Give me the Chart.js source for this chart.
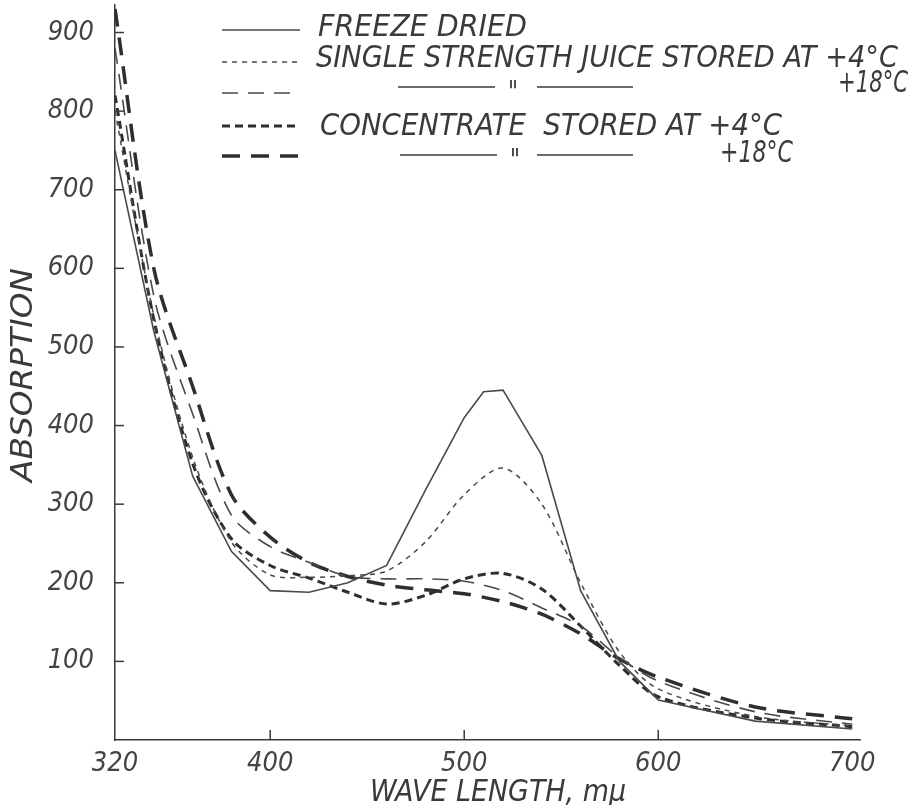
<!DOCTYPE html>
<html>
<head>
  <title>Absorption spectra</title>
  <script src="https://cdn.jsdelivr.net/npm/chart.js"></script>
  <style>
    body { margin: 0; background: #fff; }
  </style>
</head>
<body>
  <canvas id="spectrum" width="914" height="805"></canvas>

  <script>
    // wavelengths (m\u03bc) where the curves were read
    const wavelengths = [320, 340, 360, 380, 400, 420, 440, 460, 480, 500, 510, 520, 540, 560, 580, 600, 650, 700];

    // absorption values (null = no reading at that wavelength)
    const freezeDried      = [750, 520, 336, 240, 190, 188, 200, 222, 318, 410, 443, 445, 362, 190, 100, 51, 24, 14];
    const singleStrength4  = [800, 540, 360, 252, 210, 207, 209, 215, 252, 312, null, 346, 300, 200, 112, 65, 30, 18];
    const singleStrength18 = [880, 565, 415, 286, 246, 226, 208, 205, 205, 202, null, 190, 168, 145, 105, 75, 36, 20];
    const concentrate4     = [820, 535, 352, 256, 222, 206, 188, 173, 184, 205, null, 212, 192, 145, 95, 55, 28, 17];
    const concentrate18    = [930, 600, 450, 312, 258, 226, 208, 197, 191, 186, null, 176, 160, 135, 103, 80, 42, 27];

    // axis ticks
    const xTickLabels = [320, 400, 500, 600, 700];
    const xInnerTicks = [400, 500, 600];
    const yTickLabels = [100, 200, 300, 400, 500, 600, 700, 800, 900];

    const INK = '#3a3a3a';
    const FONT = '"DejaVu Sans Condensed", "DejaVu Sans", sans-serif';

    function points(values) {
      return wavelengths
        .map((w, i) => ({ x: w, y: values[i] }))
        .filter(p => p.y !== null);
    }

    // text squeezed/stretched to the width it has in the original lettering
    function fitText(ctx, str, x, y, width, size, angle) {
      ctx.save();
      ctx.font = 'italic ' + size + 'px ' + FONT;
      const w = ctx.measureText(str).width;
      ctx.translate(x, y);
      if (angle) ctx.rotate(angle);
      ctx.scale(width / w, 1);
      ctx.fillStyle = INK;
      ctx.textBaseline = 'alphabetic';
      ctx.textAlign = 'left';
      ctx.fillText(str, 0, 0);
      ctx.restore();
    }

    function seg(ctx, x1, y1, x2, y2) {
      ctx.beginPath();
      ctx.moveTo(x1, y1);
      ctx.lineTo(x2, y2);
      ctx.stroke();
    }

    const decorations = {
      id: 'decorations',
      afterDraw(chart) {
        const ctx = chart.ctx;
        const xs = chart.scales.x, ys = chart.scales.y;
        ctx.save();
        ctx.strokeStyle = INK;
        ctx.lineWidth = 1.5;

        // inward tick marks
        yTickLabels.forEach(v => {
          const py = ys.getPixelForValue(v);
          seg(ctx, xs.left, py, xs.left + 9, py);
        });
        xInnerTicks.forEach(v => {
          const px = xs.getPixelForValue(v);
          seg(ctx, px, ys.bottom, px, ys.bottom - 10);
        });

        // legend samples
        const rows = [30, 62, 93, 126, 156];
        chart.data.datasets.forEach((ds, i) => {
          ctx.save();
          ctx.strokeStyle = ds.borderColor;
          ctx.lineWidth = ds.borderWidth;
          ctx.setLineDash(ds.borderDash || []);
          seg(ctx, 222, rows[i], 300, rows[i]);
          ctx.restore();
        });

        // legend text
        fitText(ctx, 'FREEZE DRIED', 318, 36, 209, 31);
        fitText(ctx, 'SINGLE STRENGTH JUICE STORED AT +4°C', 316, 67, 582, 31);
        fitText(ctx, '+18°C', 838, 92, 70, 31);
        fitText(ctx, 'CONCENTRATE  STORED AT +4°C', 320, 135, 462, 31);
        fitText(ctx, '+18°C', 720, 162, 73, 31);

        // ditto lines
        ctx.lineWidth = 1.5;
        seg(ctx, 398, 87, 495, 87);
        seg(ctx, 537, 87, 633, 87);
        seg(ctx, 400, 155, 497, 155);
        seg(ctx, 537, 155, 633, 155);
        fitText(ctx, '"', 508, 102, 10, 30);
        fitText(ctx, '"', 510, 170, 10, 30);

        // axis titles
        fitText(ctx, 'ABSORPTION', 32, 482, 214, 31, -Math.PI / 2);
        fitText(ctx, 'WAVE LENGTH, mμ', 370, 801, 256, 30);

        ctx.restore();
      }
    };

    const ctx = document.getElementById('spectrum').getContext('2d');

    new Chart(ctx, {
      type: 'line',
      data: {
        datasets: [
          { label: 'FREEZE DRIED', data: points(freezeDried),
            borderColor: '#4a4a4a', borderWidth: 1.6, tension: 0 },
          { label: 'SINGLE STRENGTH JUICE STORED AT +4°C', data: points(singleStrength4),
            borderColor: '#4a4a4a', borderWidth: 1.5, borderDash: [5, 5], tension: 0.3 },
          { label: 'SINGLE STRENGTH JUICE STORED AT +18°C', data: points(singleStrength18),
            borderColor: '#4a4a4a', borderWidth: 1.6, borderDash: [16, 10], tension: 0.3 },
          { label: 'CONCENTRATE STORED AT +4°C', data: points(concentrate4),
            borderColor: '#2e2e2e', borderWidth: 3, borderDash: [8, 5], tension: 0.3 },
          { label: 'CONCENTRATE STORED AT +18°C', data: points(concentrate18),
            borderColor: '#2e2e2e', borderWidth: 3.5, borderDash: [18, 11], tension: 0.3 }
        ]
      },
      options: {
        responsive: false,
        animation: false,
        layout: { padding: { top: 5, right: 54, bottom: 0, left: 0 } },
        elements: { point: { radius: 0 } },
        plugins: {
          legend: { display: false },
          tooltip: { enabled: false }
        },
        scales: {
          x: {
            type: 'linear',
            min: 320,
            max: 704,
            afterBuildTicks: scale => { scale.ticks = xTickLabels.map(v => ({ value: v })); },
            afterFit: scale => { scale.height = 65; scale.paddingLeft = 0; scale.paddingRight = 0; },
            grid: { display: false },
            border: { display: true, color: INK, width: 1.5 },
            ticks: {
              padding: 0,
              maxRotation: 0,
              color: '#444',
              font: { family: FONT, size: 27, style: 'italic' }
            }
          },
          y: {
            min: 0,
            max: 935,
            afterBuildTicks: scale => { scale.ticks = yTickLabels.map(v => ({ value: v })); },
            afterFit: scale => { scale.width = 115; scale.paddingTop = 0; scale.paddingBottom = 0; },
            grid: { display: false },
            border: { display: true, color: INK, width: 1.5 },
            ticks: {
              padding: 13,
              color: '#444',
              font: { family: FONT, size: 27, style: 'italic' }
            }
          }
        }
      },
      plugins: [decorations]
    });
  </script>
</body>
</html>
